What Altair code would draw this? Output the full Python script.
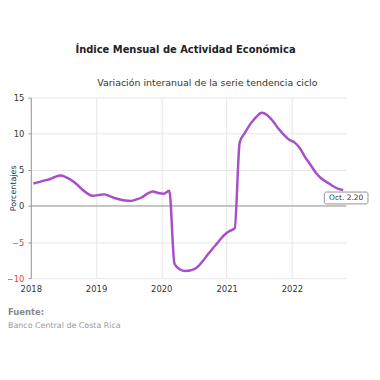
import altair as alt
import pandas as pd

# Monthly year-on-year variation (%), Jan 2018 .. Oct 2022 (mid-month points)
values_2018 = [3.1, 3.3, 3.5, 3.7, 4.0, 4.2, 4.0, 3.6, 3.0, 2.3, 1.7, 1.4]
values_2019 = [1.5, 1.6, 1.4, 1.1, 0.9, 0.75, 0.7, 0.9, 1.2, 1.7, 2.0, 1.8]
values_2020 = [1.7, 2.1, -8.0, -8.8, -9.0, -8.9, -8.6, -7.8, -6.8, -5.9, -5.0, -4.1]
values_2021 = [-3.5, -3.1, 8.8, 10.2, 11.4, 12.3, 12.9, 12.6, 11.8, 10.8, 9.9, 9.2]
values_2022 = [8.8, 8.0, 6.8, 5.7, 4.6, 3.8, 3.3, 2.8, 2.4, 2.2]

values = values_2018 + values_2019 + values_2020 + values_2021 + values_2022
dates = [pd.Timestamp(y, m, 15) for y in range(2018, 2023) for m in range(1, 13)][: len(values)]

df = pd.DataFrame({"fecha": dates, "valor": values})
last = df.tail(1).copy()
last["label"] = "Oct. 2.20"

title_text = "Índice Mensual de  Actividad Económica"
subtitle_text = "Variación interanual de la serie tendencia ciclo"
source_head = "Fuente:"
source_text = "Banco Central de Costa Rica"
y_ticks = [-10, -5, 0, 5, 10, 15]

FONT = "DejaVu Sans"
W, H = 318, 182

x_scale = alt.Scale(domain=[pd.Timestamp("2018-01-01").isoformat(), pd.Timestamp("2022-11-01").isoformat()])
y_scale = alt.Scale(domain=[-10, 15], nice=False)

x_axis = alt.Axis(title=None, format="%Y", tickCount="year", grid=True, gridColor="#e6e6e6",
                  domain=False, ticks=False, labelFontSize=8.5, labelColor="#333",
                  labelPadding=6, labelFont=FONT, labelFlush=False)
y_axis = alt.Axis(values=y_ticks, title="Porcentajes", titleFont=FONT, titleFontSize=8,
                  titleFontWeight="normal", titleColor="#333", titleAngle=270,
                  titleX=-17, titleY=H / 2, titleAlign="center", titleBaseline="middle",
                  grid=True, gridColor="#e6e6e6", domainColor="#999", tickColor="#999",
                  tickSize=3, labelFontSize=8.5, labelFont=FONT, labelPadding=4,
                  labelOverlap=False, labelFlush=False,
                  labelColor={"condition": {"test": "datum.value < 0", "value": "#e8412c"},
                              "value": "#333333"})

line = alt.Chart(df).mark_line(color="#a64fc9", strokeWidth=2.5, interpolate="monotone").encode(
    x=alt.X("fecha:T", scale=x_scale, axis=x_axis),
    y=alt.Y("valor:Q", scale=y_scale, axis=y_axis),
)

zero = alt.Chart(pd.DataFrame({"valor": [0]})).mark_rule(color="#999", strokeWidth=1).encode(
    y=alt.Y("valor:Q", scale=y_scale, axis=y_axis)
)

box = alt.Chart(last).mark_rect(fill="white", stroke="#777", strokeWidth=0.8, cornerRadius=2,
                                xOffset=-19, x2Offset=25, yOffset=2, y2Offset=14).encode(
    x=alt.X("fecha:T", scale=x_scale, axis=x_axis), x2="fecha:T",
    y=alt.Y("valor:Q", scale=y_scale, axis=y_axis), y2="valor:Q",
)
box_text = alt.Chart(last).mark_text(font=FONT, fontSize=7.5, color="#333", dx=3, dy=8,
                                     baseline="middle", align="center").encode(
    x=alt.X("fecha:T", scale=x_scale, axis=x_axis), y=alt.Y("valor:Q", scale=y_scale, axis=y_axis),
    text="label:N"
)

one = pd.DataFrame({"a": [0]})
title = alt.Chart(one).mark_text(text=title_text, font=FONT, fontSize=10, fontWeight="bold",
                                 color="#222", align="center", baseline="alphabetic").encode(
    x=alt.value(W / 2 - 3), y=alt.value(-45))
subtitle = alt.Chart(one).mark_text(text=subtitle_text, font=FONT, fontSize=9.5, color="#333",
                                    align="center", baseline="alphabetic").encode(
    x=alt.value(W / 2 + 19), y=alt.value(-12))
src1 = alt.Chart(one).mark_text(text=source_head, font=FONT, fontSize=8.5, fontWeight="bold",
                                color="#888", align="left", baseline="alphabetic").encode(
    x=alt.value(-23), y=alt.value(219))
src2 = alt.Chart(one).mark_text(text=source_text, font=FONT, fontSize=8, color="#999",
                                align="left", baseline="alphabetic").encode(
    x=alt.value(-23), y=alt.value(232))

chart = alt.layer(zero, line, box, box_text, title, subtitle, src1, src2).properties(
    width=W, height=H,
    autosize=alt.AutoSizeParams(type="none"),
    padding={"left": 23, "top": 89, "right": 26, "bottom": 60},
    background="white",
).configure_view(stroke=None)

chart.save("out.html", embed_options={"renderer": "svg", "actions": False})
